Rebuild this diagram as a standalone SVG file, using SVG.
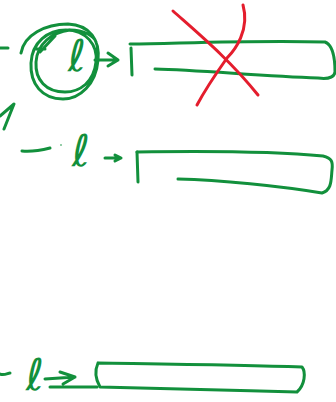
<svg xmlns="http://www.w3.org/2000/svg" width="336" height="402" viewBox="0 0 336 402">
<style>
.g{fill:none;stroke:#12903c;stroke-width:3;stroke-linecap:round;stroke-linejoin:round}
.r{fill:none;stroke:#e41d2d;stroke-width:3;stroke-linecap:round;stroke-linejoin:round}
.t{font-family:"DejaVu Sans",sans-serif;fill:#12903c}
</style>
<rect width="336" height="402" fill="#ffffff"/>
<g id="node-top-circle">
<path class="g" d="M0,48 L8,48"/>
<path class="g" d="M21,53 C24,35 45,24 68,24 C90,25 100,40 98,60 C96,84 80,99 63,99 C42,99 30,84 31,63 C32,42 48,30 66,30 C86,30 98,45 96,62 C94,82 80,92 65,92 C46,92 35,80 36,62 C37,44 52,32 70,30 C84,30 94,36 96,42"/>
<path class="g" d="M36,49 L45,49 M40,52 L55,36"/>
<text class="t" x="68" y="71" font-size="44">ℓ</text>
</g>
<g id="node-top-bar">
<path class="g" d="M131,48 L132,75"/>
<path class="g" d="M130,44 C190,43 260,40 325,42 C333,45 335,60 335,72 C334,79 326,79 318,78 C260,76 200,70 155,69"/>
</g>
<g id="node-cross">
<path class="r" d="M173,11 C200,35 230,60 258,95"/>
<path class="r" d="M243,5 C250,30 235,50 227,58 C215,75 205,90 197,105"/>
</g>
<g id="node-mid">
<path class="g" d="M22,151 C32,152 42,150 50,148"/>
<circle cx="61" cy="145" r="0.8" fill="#12903c"/>
<text class="t" x="72" y="166" font-size="44">ℓ</text>
<path class="g" d="M137,152 L138,182"/>
<path class="g" d="M137,152 C200,151 270,151 323,156 C332,158 333,162 332,170 C331,180 332,190 322,193 C280,186 220,180 178,179"/>
</g>
<g id="node-bottom">
<path class="g" d="M0,374 C4,376 8,373 10,373"/>
<text class="t" x="26" y="390" font-size="44">ℓ</text>
<path class="g" d="M98,363 C160,364 240,365 302,367 C306,372 305,385 297,392 C230,390 160,388 100,387 C96,380 94,372 98,363"/>
</g>
<g id="connectors">
<path class="g" d="M95,60 L118,60 M108,53 L118,60 L108,66"/>
<path class="g" d="M105,158 L120,158 M115,155 L121,158 L115,161"/>
<path class="g" d="M45,379 L75,377 M60,372 L75,377 L63,384 M50,387 L97,387"/>
<path class="g" d="M0,116 L14,104 L4,129"/>
</g>
</svg>
